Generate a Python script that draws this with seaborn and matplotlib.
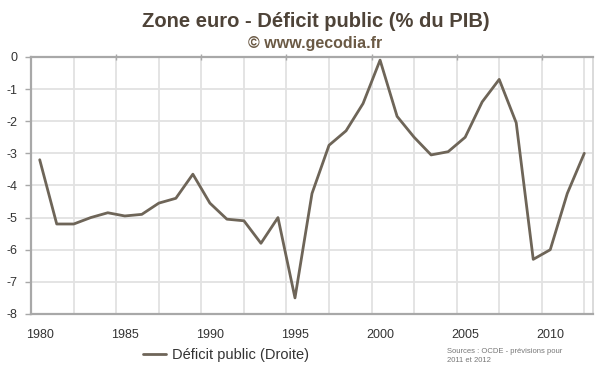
import pandas as pd
import matplotlib.pyplot as plt
import seaborn as sns
import numpy as np

# Données (zone euro, % du PIB)
annees = list(range(1980, 2013))
deficit = [-3.2, -5.2, -5.2, -5.0, -4.85, -4.95, -4.9, -4.55, -4.4, -3.65,
           -4.55, -5.05, -5.1, -5.8, -5.0, -7.5, -4.25, -2.75, -2.3, -1.45,
           -0.1, -1.85, -2.5, -3.05, -2.95, -2.5, -1.4, -0.7, -2.05, -6.3,
           -6.0, -4.25, -3.0]
labels_x = [1980, 1985, 1990, 1995, 2000, 2005, 2010]
labels_y = [0, -1, -2, -3, -4, -5, -6, -7, -8]

df = pd.DataFrame({'Année': annees, 'Déficit': deficit})

sns.set_style('white')
plt.rcParams['font.family'] = ['Liberation Sans', 'DejaVu Sans']

fig = plt.figure(figsize=(6, 3.72), dpi=100)
ax = fig.add_axes([0.052, 0.156, 0.936, 0.691])

grid_col = '#e2e2e2'
axis_col = '#a8a8a8'

# grille verticale tous les 2,5 ans (axe de catégories façon Excel)
for gx in np.arange(1979.5, 2012.6, 2.5):
    ax.axvline(gx, color=grid_col, lw=1.3, zorder=0)
for gy in labels_y[1:-1]:
    ax.axhline(gy, color=grid_col, lw=1.3, zorder=0)

sns.lineplot(data=df, x='Année', y='Déficit', ax=ax, color='#6e6558',
             lw=2.0, label='Déficit public (Droite)', legend=False, zorder=3)

ax.set_xlim(1979.5, 2012.5)
ax.set_ylim(-8, 0)

for s in ['left', 'top', 'bottom']:
    ax.spines[s].set_color(axis_col)
    ax.spines[s].set_linewidth(1.6)
ax.spines['right'].set_color('#d8d8d8')
ax.spines['right'].set_linewidth(1.3)

ax.set_yticks(labels_y)
ax.set_yticklabels([str(v) for v in labels_y])
ax.tick_params(axis='y', left=True, length=4, width=1, color=axis_col,
               labelsize=9, labelcolor='#333333', pad=6)

ax.set_xticks(labels_x)
ax.set_xticklabels([str(v) for v in labels_x])
ax.tick_params(axis='x', which='major', bottom=False, length=0,
               labelsize=9, labelcolor='#333333', pad=11)
ax.set_xticks(np.arange(1984.5, 2012, 5), minor=True)
ax.tick_params(axis='x', which='minor', top=True, bottom=False, direction='inout',
               length=5, width=1, color=axis_col)

ax.set_xlabel('')
ax.set_ylabel('')

fig.text(0.527, 0.941, 'Zone euro - Déficit public (% du PIB)', ha='center', va='center',
         fontsize=14.5, fontweight='bold', color='#4e4338')
fig.text(0.525, 0.882, '© www.gecodia.fr', ha='center', va='center',
         fontsize=11.5, fontweight='bold', color='#6b5a45')

fig.legend(loc='center', bbox_to_anchor=(0.377, 0.045), frameon=False,
           fontsize=10.5, handlelength=1.6, handletextpad=0.4, labelcolor='#333333')

fig.text(0.745, 0.043, 'Sources : OCDE - prévisions pour\n2011 et 2012', ha='left', va='center',
         fontsize=5.5, color='#777777', linespacing=1.5)

plt.savefig('out.png', dpi=100)
